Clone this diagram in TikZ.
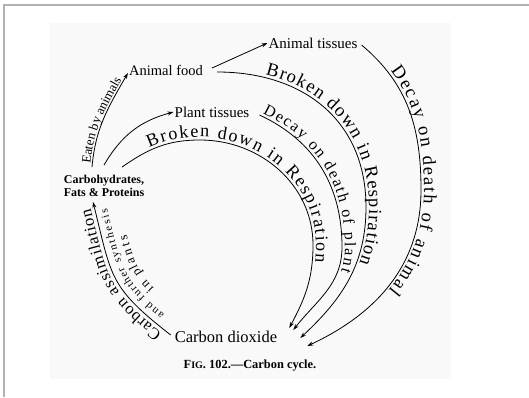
\documentclass[tikz,border=0pt]{standalone}
\usepackage{fontspec}
\setmainfont{Liberation Serif}
\usetikzlibrary{arrows.meta,decorations.text}

\begin{document}
\begin{tikzpicture}[x=1pt,y=1pt,>={Stealth[length=6pt,width=4pt]},
  lbl/.style={inner sep=1pt,font=\fontsize{15}{15}\selectfont},
  arr/.style={->,line width=0.8pt},
  txt/.style n args={5}{postaction={decorate,decoration={text along path,
    text={|\fontsize{#1}{#1}\selectfont|#2},raise=#3,
    text align={left indent=#4,right indent=#5,fit to path}}}}]
\useasboundingbox (0,0) rectangle (529,397);
\draw[gray!60,line width=1.2pt] (4,0) -- (4,392) -- (529,392);
\fill[gray!5] (50,18) rectangle (451,374);

\node[lbl] (atis) at (313,354) {Animal tissues};
\node[lbl,font=\fontsize{14.5}{14.5}\selectfont] (afood) at (166,327) {Animal food};
\node[lbl] (ptis) at (212,285) {Plant tissues};
\node[lbl,font=\fontsize{12}{13}\selectfont\bfseries,align=center] (carbs) at (104,211) {Carbohydrates,\\Fats \& Proteins};
\node[lbl,font=\fontsize{16.5}{16.5}\selectfont] (co2) at (226,60) {Carbon dioxide};
\node[lbl,font=\fontsize{12.4}{12.4}\selectfont\bfseries] (cap) at (250,31) {F{\fontsize{10}{10}\selectfont IG}. 102.---Carbon cycle.};

\coordinate (r1t) at (200,257);
\coordinate (r1r) at (313,152);
\coordinate (r2r) at (342,150);
\coordinate (r3r) at (366,190);
\coordinate (r4r) at (421,207);

\draw[arr] ([shift={(8pt,2pt)}]afood.east) -- (atis.west);
\draw[arr,txt={13}{Eaten by animals}{2pt}{3pt}{9pt}] ([shift={(-12pt,7pt)}]carbs.north) to[out=85,in=-120] ([yshift=-3pt]afood.west);
\draw[arr] ([yshift=9pt]carbs.north) to[out=60,in=195] (ptis.west);
\draw[arr,txt={18}{Broken down in Respiration}{3pt}{33pt}{70pt}] ([shift={(18pt,7pt)}]carbs.north) to[out=35,in=180] (r1t) to[out=0,in=90] (r1r) to[out=-90,in=62] ([shift={(11pt,9pt)}]co2.east);
\draw[arr,txt={16}{Decay on death of plant}{3pt}{2pt}{75pt}] ([shift={(9pt,-3pt)}]ptis.east) to[out=-25,in=90] (r2r) to[out=-90,in=52] ([shift={(15pt,7pt)}]co2.east);
\draw[arr,txt={18.5}{Broken down in Respiration}{3pt}{48pt}{95pt}] ([shift={(13pt,-2pt)}]afood.east) to[out=0,in=90,looseness=1.1] (r3r) to[out=-90,in=43] ([shift={(22pt,-1pt)}]co2.east);
\draw[arr,txt={18.5}{Decay on death of animal}{3pt}{38pt}{98pt}] ([shift={(3pt,-2pt)}]atis.east) to[out=-40,in=90] (r4r) to[out=-90,in=25] ([shift={(29pt,-9pt)}]co2.east);
\draw[arr,txt={16.5}{Carbon assimilation}{4pt}{8pt}{6pt},txt={11}{and further synthesis}{-12pt}{18pt}{10pt},txt={13}{in plants}{-25pt}{45pt}{40pt}] ([shift={(-3pt,2pt)}]co2.west) to[out=142,in=-76,looseness=1.3] ([shift={(-11pt,-4pt)}]carbs.south);
\end{tikzpicture}
\end{document}
